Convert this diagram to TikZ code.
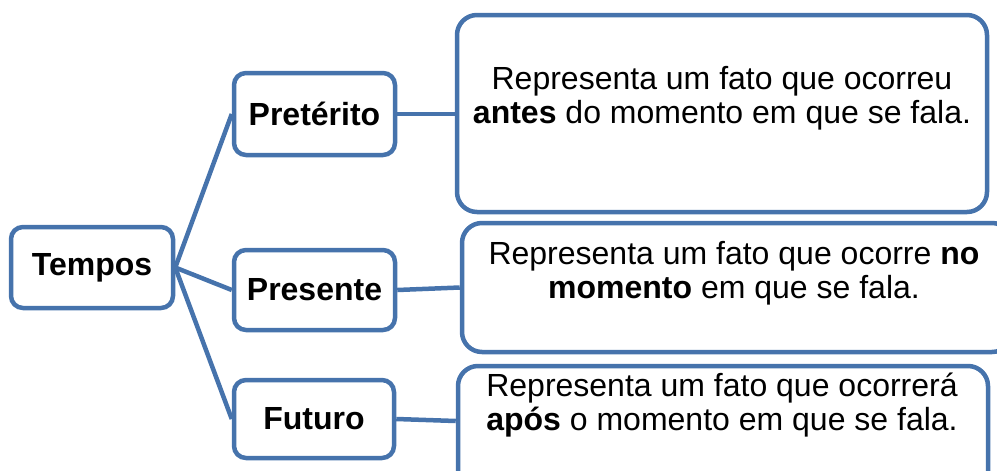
\documentclass[tikz,border=0pt]{standalone}
\usepackage{fontspec}
\setmainfont{Liberation Sans}
\definecolor{bl}{RGB}{70,115,172}
\begin{document}
\begin{tikzpicture}[x=1pt,y=-1pt,
  box/.style={draw=bl, line width=4.5pt, rounded corners=12pt, fill=white, inner sep=0pt, font=\fontsize{32}{34}\selectfont\bfseries},
  big/.style={draw=bl, line width=4.5pt, rounded corners=20pt, fill=white, inner sep=0pt},
  conn/.style={draw=bl, line width=4.5pt},
  txt/.style={font=\fontsize{32}{34}\selectfont, align=center, inner sep=0pt}]
\useasboundingbox (0,0) rectangle (997,471);
\begin{scope}
\clip (0,0) rectangle (997,471);
\node[box, minimum width=162pt, minimum height=81pt] (tempos) at (92,267.5) {Tempos};
\node[box, minimum width=161pt, minimum height=82pt] (pret) at (314.5,114) {Pretérito};
\node[box, minimum width=161pt, minimum height=80pt] (pres) at (314.5,290) {Presente};
\node[box, minimum width=160pt, minimum height=78pt] (fut) at (314,419) {Futuro};
\node[big, minimum width=530pt, minimum height=197pt] (b1) at (722,113.5) {};
\node[big, minimum width=550pt, minimum height=129pt] (b2) at (737,287.5) {};
\node[big, minimum width=530pt, minimum height=134pt] (b3) at (723,433) {};
\node[txt] (t1) at (722,98.5) {Representa um fato que ocorreu\\\textbf{antes} do momento em que se fala.};
\node[txt] (t2) at (734,273) {Representa um fato que ocorre \textbf{no}\\\textbf{momento} em que se fala.};
\node[txt] (t3) at (722,405) {Representa um fato que ocorrerá\\\textbf{após} o momento em que se fala.};
\draw[conn] (tempos.east) -- (pret.west);
\draw[conn] (tempos.east) -- (pres.west);
\draw[conn] (tempos.east) -- (fut.west);
\draw[conn] (pret.east) -- (pret.east -| b1.west);
\draw[conn] (pres.east) -- (b2.west);
\draw[conn] (fut.east) -- ([yshift=-2pt]fut.east -| b3.west);
\end{scope}
\end{tikzpicture}
\end{document}
